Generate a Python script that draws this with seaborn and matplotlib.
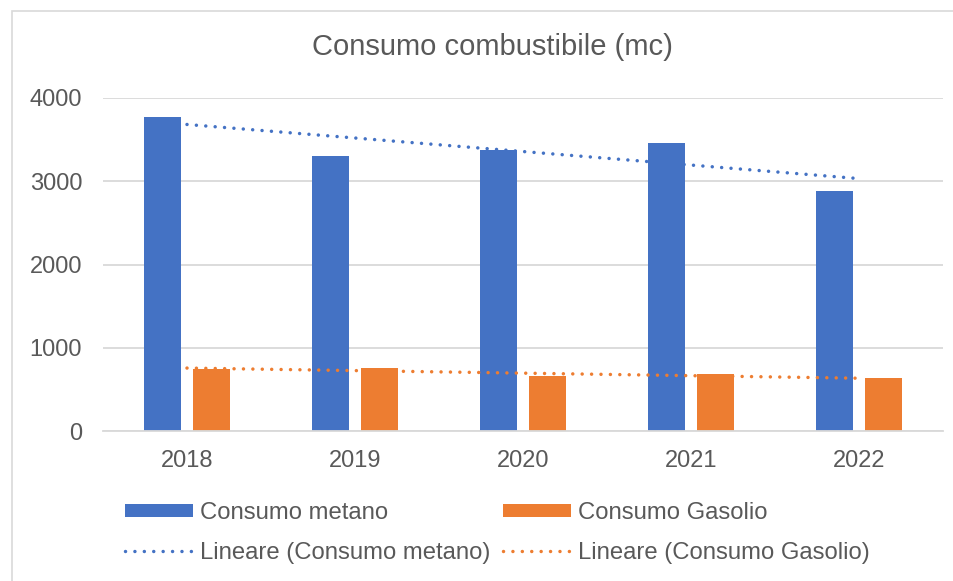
import numpy as np
import pandas as pd
import matplotlib
matplotlib.use("Agg")
import matplotlib.pyplot as plt
from matplotlib.patches import Rectangle, Patch
from matplotlib.lines import Line2D
import seaborn as sns

years = ["2018", "2019", "2020", "2021", "2022"]
metano = [3775, 3300, 3370, 3455, 2885]
gasolio = [750, 755, 655, 680, 635]
series_names = ["Consumo metano", "Consumo Gasolio"]
trend_names = ["Lineare (Consumo metano)", "Lineare (Consumo Gasolio)"]
title = "Consumo combustibile (mc)"
yticks = [0, 1000, 2000, 3000, 4000]

BLUE = "#4472C4"
ORANGE = "#ED7D31"
GRID = "#D9D9D9"
TXT = "#595959"

sns.set_theme(style="white")
plt.rcParams["font.family"] = ["Liberation Sans", "DejaVu Sans"]

W, H = 954, 581
fig = plt.figure(figsize=(W / 100, H / 100), dpi=100)
ax = fig.add_axes([103 / W, 1 - 431 / H, 840 / W, (431 - 98) / H])

df = pd.DataFrame({
    "Anno": years * 2,
    "Valore": metano + gasolio,
    "Serie": [series_names[0]] * 5 + [series_names[1]] * 5,
})
sns.barplot(data=df, x="Anno", y="Valore", hue="Serie", order=years,
            hue_order=series_names, palette=[BLUE, ORANGE], saturation=1,
            width=0.572, gap=0.23, linewidth=0, legend=False, ax=ax)

xs = np.arange(len(years))
dot = (0, (0.01, 2.7))
for vals, col in [(metano, BLUE), (gasolio, ORANGE)]:
    sns.regplot(x=xs, y=np.array(vals, dtype=float), scatter=False, ci=None,
                truncate=True, color=col, ax=ax,
                line_kws=dict(linestyle=dot, linewidth=2.5,
                              dash_capstyle="round", solid_capstyle="round"))

ax.set_xlim(-0.5, 4.5)
ax.set_ylim(0, 4000)
ax.set_yticks(yticks)
ax.set_yticklabels([str(v) for v in yticks])
ax.set_xticks(xs)
ax.set_xticklabels(years)
ax.set_xlabel("")
ax.set_ylabel("")
ax.yaxis.grid(True, color=GRID, linewidth=1.3)
ax.set_axisbelow(True)
for s in ["left", "right", "top"]:
    ax.spines[s].set_visible(False)
ax.spines["bottom"].set_color(GRID)
ax.spines["bottom"].set_linewidth(1.3)
ax.tick_params(axis="y", length=0, pad=15, labelsize=17, labelcolor=TXT)
ax.tick_params(axis="x", length=0, pad=14, labelsize=17, labelcolor=TXT)

fig.text(492 / W, 1 - 47 / H, title, ha="center", va="center",
         fontsize=21, color=TXT)

handles = [
    Patch(facecolor=BLUE, edgecolor="none"),
    Line2D([], [], color=BLUE, linestyle=dot, linewidth=2.5, dash_capstyle="round"),
    Patch(facecolor=ORANGE, edgecolor="none"),
    Line2D([], [], color=ORANGE, linestyle=dot, linewidth=2.5, dash_capstyle="round"),
]
labels = [series_names[0], trend_names[0], series_names[1], trend_names[1]]
leg = fig.legend(handles, labels, loc="upper left",
                 bbox_to_anchor=(125 / W, 1 - 502 / H), ncol=2, frameon=False,
                 fontsize=17.2, handlelength=2.85, handleheight=0.5,
                 handletextpad=0.3, columnspacing=0.5, labelspacing=0.75,
                 borderpad=0, borderaxespad=0)
for t in leg.get_texts():
    t.set_color(TXT)

fig.add_artist(Rectangle((12 / W, -0.1), 1.2, 1 - 11 / H + 0.1,
                         transform=fig.transFigure, fill=False,
                         edgecolor=GRID, linewidth=1.2))

fig.savefig("out.png", dpi=100)
